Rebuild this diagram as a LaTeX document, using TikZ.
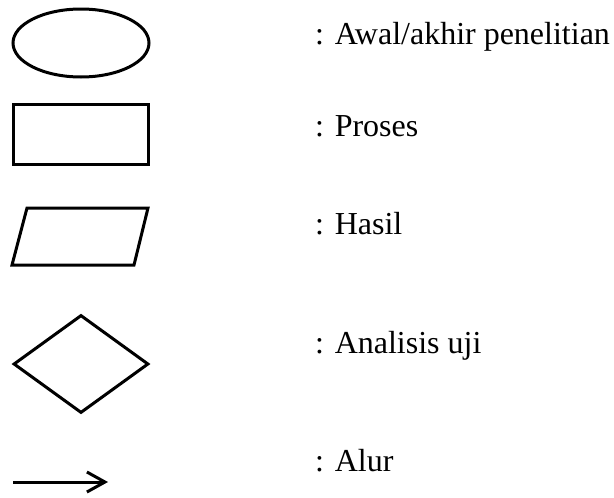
\documentclass[tikz,border=0pt]{standalone}
\usepackage{fontspec}
\setmainfont{Liberation Serif}
\usepackage{tikz}
\usetikzlibrary{shapes.geometric,arrows.meta}

\tikzset{
	simbol/.style={draw=black,line width=3pt,inner sep=0pt},
	keterangan/.style={anchor=base west,inner sep=0pt,font=\fontsize{32}{38}\selectfont}
}

\begin{document}
\begin{tikzpicture}[x=1pt,y=-1pt]
		\useasboundingbox (0,0) rectangle (614,498);
		\node[simbol,ellipse,minimum width=136pt,minimum height=68pt] at (81,43) (terminal) {};
		\node[keterangan] at (315,44) (ketterminal) {: Awal/akhir penelitian};
		\node[simbol,rectangle,minimum width=135pt,minimum height=60pt] at (80.5,134) (proses) {};
		\node[keterangan] at (315,136) (ketproses) {: Proses};
		\draw[line width=3pt,line join=miter] (27,208) -- (148,208) -- (134,265) -- (12,265) -- cycle;
		\node[keterangan] at (315,234) (kethasil) {: Hasil};
		\node[simbol,diamond,minimum width=135pt,minimum height=98pt] at (81,364) (uji) {};
		\node[keterangan] at (315,353) (ketuji) {: Analisis uji};
		\coordinate (alurawal) at (13,482);
		\coordinate (alurakhir) at (108,482);
		\draw[-{Straight Barb[length=18pt,width=20pt]},line width=3pt] (alurawal) -- (alurakhir);
		\node[keterangan] at (315,471) (ketalur) {: Alur};
	\end{tikzpicture}
\end{document}
